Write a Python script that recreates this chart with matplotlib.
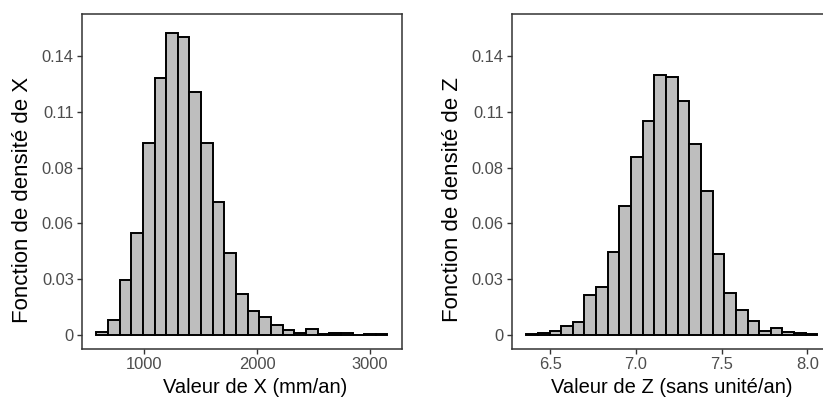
import numpy as np
import matplotlib; matplotlib.use("Agg")
import matplotlib.pyplot as plt

plt.rcParams["font.family"] = ["Liberation Sans", "DejaVu Sans"]

# histogram of X (proportion per bin)
x_start, x_bw = 573.0, 103.3
x_heights = [0.0015, 0.0072, 0.0275, 0.0511, 0.0962, 0.1292, 0.1518, 0.1495,
             0.1218, 0.0962, 0.0667, 0.0411, 0.0206, 0.0121, 0.0090, 0.0050,
             0.0023, 0.0010, 0.0028, 0.0005, 0.0008, 0.0008, 0.0000, 0.0003, 0.0003]
x_ticks = [1000, 2000, 3000]

# histogram of Z (proportion per bin)
z_start, z_bw = 6.359, 0.068
z_heights = [0.0005, 0.0010, 0.0020, 0.0044, 0.0062, 0.0199, 0.0240, 0.0416,
             0.0649, 0.0895, 0.1073, 0.1307, 0.1297, 0.1175, 0.0960, 0.0721,
             0.0407, 0.0208, 0.0124, 0.0067, 0.0018, 0.0032, 0.0012, 0.0008, 0.0005]
z_ticks = [6.5, 7.0, 7.5, 8.0]

y_ticks = np.linspace(0, 0.14, 6)
y_labels = ["0" if v == 0 else f"{v:.2f}" for v in y_ticks]

fig = plt.figure(figsize=(8.23, 4.01), dpi=100)
ax1 = fig.add_axes([0.0993, 0.1289, 0.3892, 0.8362])
ax2 = fig.add_axes([0.6217, 0.1289, 0.3892, 0.8362])

panels = [
    (ax1, x_start, x_bw, x_heights, x_ticks, ["1000", "2000", "3000"],
     "Valeur de X (mm/an)", "Fonction de densité de X", 0.541),
    (ax2, z_start, z_bw, z_heights, z_ticks, ["6.5", "7.0", "7.5", "8.0"],
     "Valeur de Z (sans unité/an)", "Fonction de densité de Z", 0.5),
]

for ax, start, bw, h, xt, xtl, xlab, ylab, xlab_pos in panels:
    edges = start + bw * np.arange(len(h) + 1)
    ax.bar(edges[:-1], h, width=bw, align="edge", color="#BEBEBE",
           edgecolor="black", linewidth=1.4)
    span = edges[-1] - edges[0]
    ax.set_xlim(edges[0] - 0.05 * span, edges[-1] + 0.05 * span)
    ax.set_ylim(-0.0073, 0.1612)
    ax.set_xticks(xt); ax.set_xticklabels(xtl)
    ax.set_yticks(y_ticks); ax.set_yticklabels(y_labels)
    ax.tick_params(colors="#333333", labelcolor="#4D4D4D", labelsize=11.9,
                   length=3.7, width=1.0, pad=2)
    for s in ax.spines.values():
        s.set_color("#333333"); s.set_linewidth(1.1)
    ax.set_xlabel(xlab, fontsize=14.5)
    ax.xaxis.set_label_coords(xlab_pos, -0.0856)
    ax.set_ylabel(ylab, fontsize=16)
    ax.yaxis.set_label_coords(-0.153, 0.4453)

fig.savefig("out.png", dpi=100)
